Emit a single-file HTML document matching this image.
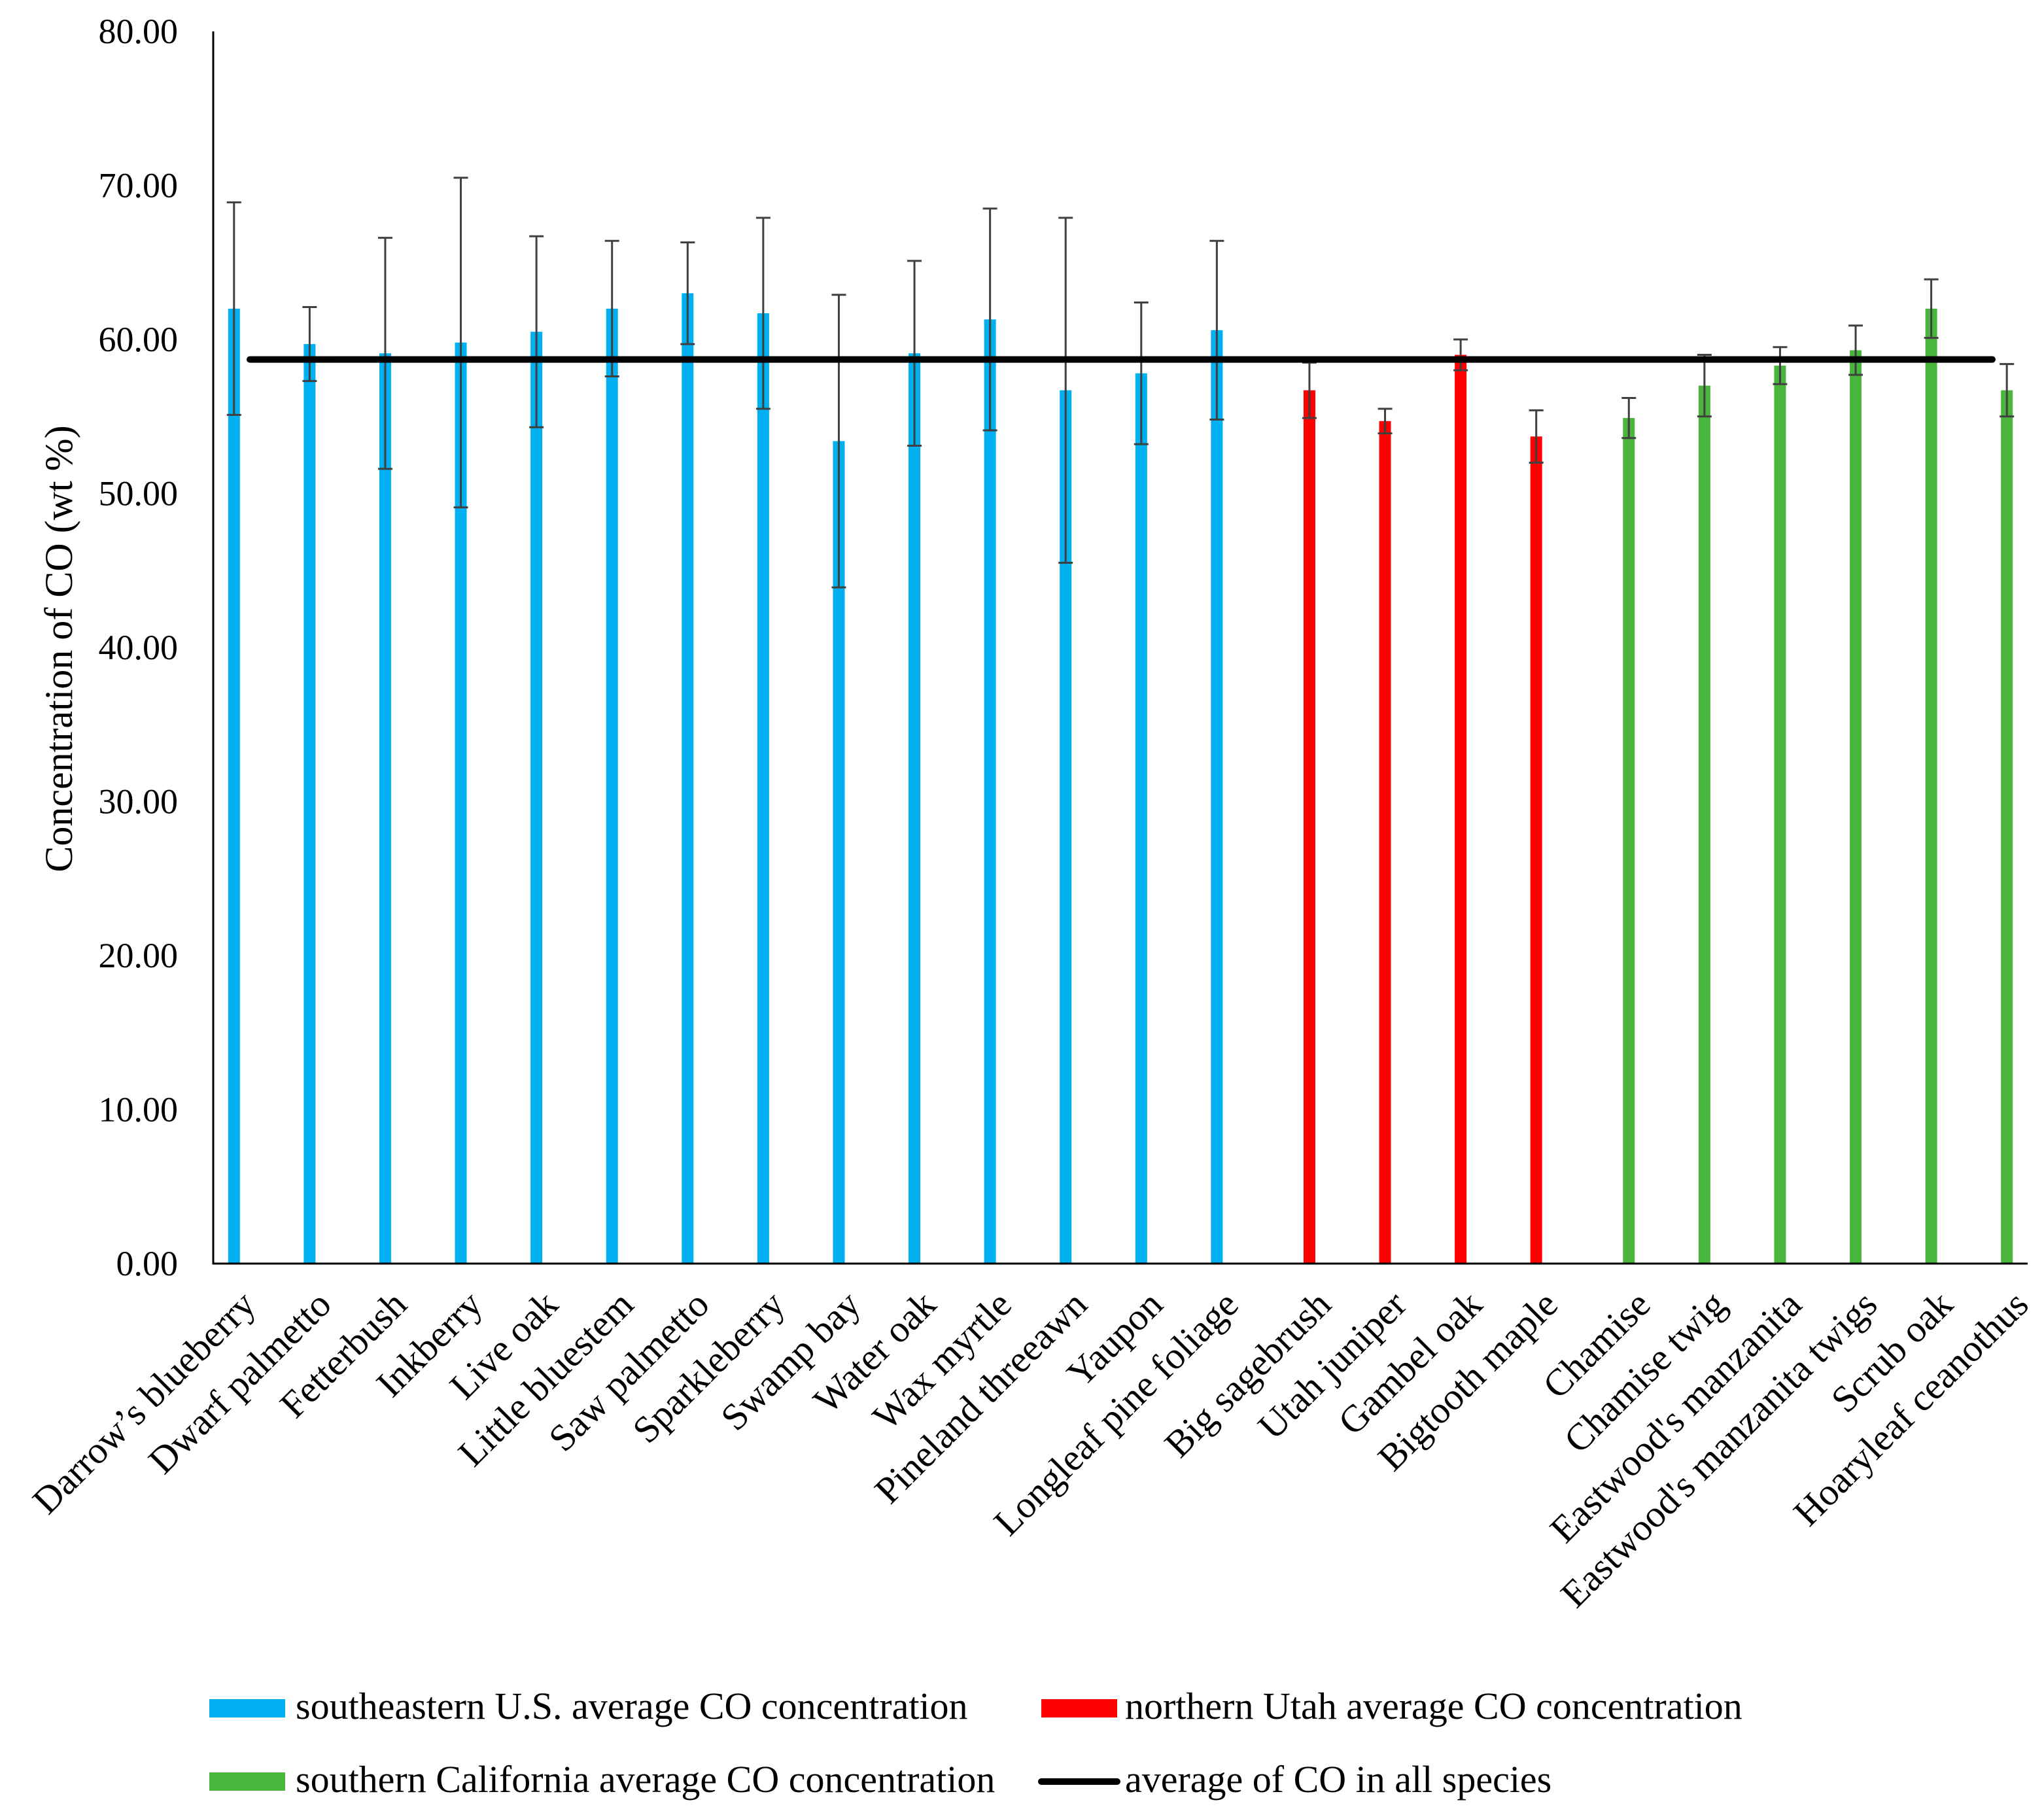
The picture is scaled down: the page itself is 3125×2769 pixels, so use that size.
<!DOCTYPE html>
<html><head><meta charset="utf-8"><style>
html,body{margin:0;padding:0;background:#fff;}
svg text{font-family:"Liberation Serif",serif;fill:#000;}
</style></head><body>
<svg id="chart" width="3125" height="2764" viewBox="0 0 3125 2764" xmlns="http://www.w3.org/2000/svg">
<g id="plot"></g>
<text transform="translate(110,992) rotate(-90)" text-anchor="middle" font-size="60">Concentration of CO (wt %)</text>
<g>
<rect x="320" y="2598" width="116" height="28" fill="#00B0F0"/>
<text x="452" y="2628" font-size="58">southeastern U.S. average CO concentration</text>
<rect x="1592" y="2598" width="116" height="28" fill="#FF0000"/>
<text x="1720" y="2628" font-size="58">northern Utah average CO concentration</text>
<rect x="320" y="2710" width="116" height="28" fill="#4AB53C"/>
<text x="452" y="2740" font-size="58">southern California average CO concentration</text>
<line x1="1592" y1="2724" x2="1708" y2="2724" stroke="#000" stroke-width="10" stroke-linecap="round"/>
<text x="1720" y="2740" font-size="58">average of CO in all species</text>
</g>
</svg>
<script>
const categories=["Darrow’s blueberry","Dwarf palmetto","Fetterbush","Inkberry","Live oak","Little bluestem","Saw palmetto","Sparkleberry","Swamp bay","Water oak","Wax myrtle","Pineland threeawn","Yaupon","Longleaf pine foliage","Big sagebrush","Utah juniper","Gambel oak","Bigtooth maple","Chamise","Chamise twig","Eastwood's manzanita","Eastwood's manzanita twigs","Scrub oak","Hoaryleaf ceanothus"];
const groups=["se","se","se","se","se","se","se","se","se","se","se","se","se","se","ut","ut","ut","ut","ca","ca","ca","ca","ca","ca"];
const values=[62.0,59.7,59.1,59.8,60.5,62.0,63.0,61.7,53.4,59.1,61.3,56.7,57.8,60.6,56.7,54.7,59.0,53.7,54.9,57.0,58.3,59.3,62.0,56.7];
const errors=[6.9,2.4,7.5,10.7,6.2,4.4,3.3,6.2,9.5,6.0,7.2,11.2,4.6,5.8,1.8,0.8,1.0,1.7,1.3,2.0,1.2,1.6,1.9,1.7];
const overallAverage=58.7;
const yTicks=[0,10,20,30,40,50,60,70,80];
const NS="http://www.w3.org/2000/svg";
const X0=326,X1=3100,Y0=1932,Y80=48;
const y=v=>Y0-(v/80)*(Y0-Y80);
const cw=(X1-X0)/categories.length;
const off={se:-26,ut:0,ca:26};
const col={se:"#00B0F0",ut:"#FF0000",ca:"#4AB53C"};
const x=(i)=>X0+cw*(i+0.5)+off[groups[i]];
const g=document.getElementById('plot');
function mk(t,a){const e=document.createElementNS(NS,t);for(const k in a)e.setAttribute(k,a[k]);g.appendChild(e);return e;}
yTicks.forEach(t=>{const e=mk('text',{x:272,y:y(t)+18,'text-anchor':'end','font-size':54});e.textContent=t.toFixed(2);

});
values.forEach((v,i)=>{
const b=mk('rect',{x:x(i)-9,y:y(v),width:18,height:Y0-y(v),fill:col[groups[i]]});


const hi=y(v+errors[i]),lo=y(v-errors[i]),cx=x(i);
const eb=mk('path',{d:`M${cx},${hi}V${lo}M${cx-11},${hi}H${cx+11}M${cx-11},${lo}H${cx+11}`,stroke:'#404040','stroke-width':3,fill:'none'});


const tx=mk('text',{transform:`translate(${x(i)+36},1998) rotate(-45)`,'text-anchor':'end','font-size':58});tx.textContent=categories[i];


});
const ax=mk('path',{d:`M${X0},48V${Y0}H${X1}`,stroke:'#000','stroke-width':3,fill:'none'});


const al=mk('line',{x1:382,x2:3046,y1:y(overallAverage),y2:y(overallAverage),stroke:'#000','stroke-width':10,'stroke-linecap':'round'});


</script>
</body></html>
